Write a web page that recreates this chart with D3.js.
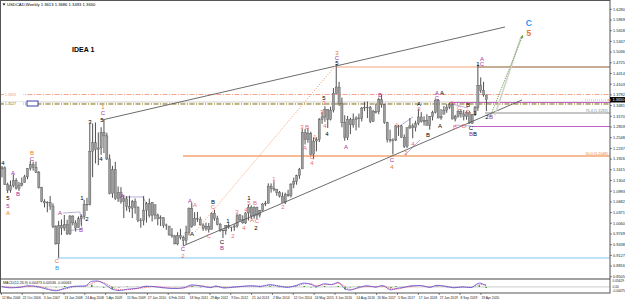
<!DOCTYPE html>
<html><head><meta charset="utf-8">
<script src="https://cdn.jsdelivr.net/npm/d3@7"></script>
<style>body{margin:0;background:#fff}svg{display:block;font-family:"Liberation Sans",Arial,sans-serif}</style>
</head><body><svg id="c" width="625" height="301"></svg>
<script>
// ---------- DATA ----------
const firstMonth = [2006, 3]; // March 2006, monthly bars
const high = [
1.1725,1.1715,1.1240,1.1300,1.1480,1.1370,1.1260,1.1390,1.1470,1.1660,
1.1880,1.1850,1.1850,1.1580,1.1120,1.0760,1.0700,1.0850,1.0640,1.0000,1.0130,1.0170,
1.0300,1.0160,1.0300,1.0290,1.0150,1.0260,1.0320,1.0740,1.0800,1.2950,1.2960,1.2990,
1.2700,1.2850,1.3060,1.2690,1.2060,1.1730,1.1850,1.1130,1.1110,1.0890,1.0850,1.0860,
1.0740,1.0780,1.0550,1.0210,1.0850,1.0680,1.0780,1.0680,1.0600,1.0340,1.0290,1.0230,
1.0050,0.9980,0.9920,0.9720,0.9800,0.9900,0.9700,0.9990,1.0520,1.0660,1.0380,1.0390,
1.0250,1.0060,1.0080,1.0070,1.0380,1.0450,1.0280,1.0070,0.9880,1.0010,1.0060,0.9960,
1.0030,1.0320,1.0330,1.0290,1.0380,1.0610,1.0580,1.0550,1.0540,1.0440,1.0650,1.0710,
1.1220,1.1220,1.1280,1.1060,1.1000,1.0960,1.0950,1.1030,1.1220,1.1390,1.1470,1.1670,
1.2800,1.2800,1.2830,1.2720,1.2560,1.2560,1.3120,1.3300,1.3460,1.3370,1.3450,1.3990,
1.4690,1.4170,1.3710,1.3200,1.3180,1.3130,1.3250,1.3170,1.3250,1.3440,1.3590,1.3600,
1.3470,1.3360,1.3540,1.3710,1.3790,1.3540,1.3010,1.2780,1.2530,1.2920,1.2920,1.2920,
1.2640,1.2840,1.3120,1.2960,1.3040,1.3390,1.3290,1.3170,1.3230,1.3170,1.3330,1.3660,
1.3670,1.3380,1.3470,1.3520,1.3570,1.3560,1.3210,1.3350,1.3380,1.3350,1.3330,1.3320,
1.3230,1.3470,1.4670,1.4300,1.4170,1.3800];
const low = [
1.1390,1.1180,1.0940,1.0950,1.1100,1.1040,1.1000,1.1130,1.1240,1.1340,
1.1590,1.1590,1.1520,1.1070,1.0670,1.0520,1.0380,1.0450,0.9920,0.9440,0.9060,0.9720,
0.9840,0.9720,0.9720,1.0000,0.9820,0.9930,0.9990,1.0170,1.0420,1.0580,1.1400,1.1800,
1.1750,1.2050,1.2100,1.1900,1.0900,1.0800,1.0740,1.0680,1.0630,1.0210,1.0420,1.0380,
1.0210,1.0340,1.0090,0.9930,1.0000,1.0080,1.0230,1.0110,1.0170,1.0000,0.9980,0.9930,
0.9870,0.9700,0.9640,0.9450,0.9420,0.9590,0.9410,0.9450,0.9710,0.9930,1.0000,1.0100,
0.9990,0.9840,0.9840,0.9790,0.9880,1.0130,1.0000,0.9810,0.9630,0.9730,0.9900,0.9820,
0.9840,0.9930,1.0110,1.0050,1.0040,1.0140,1.0180,1.0190,1.0180,1.0230,1.0410,1.0560,
1.0630,1.0950,1.0990,1.0860,1.0810,1.0670,1.0620,1.0830,1.0810,1.1080,1.1180,1.1350,
1.1640,1.2350,1.2400,1.2040,1.1920,1.2150,1.2420,1.2950,1.3010,1.2830,1.3050,1.3280,
1.3820,1.3470,1.2850,1.2460,1.2480,1.2650,1.2840,1.2760,1.2840,1.3020,1.3320,1.3120,
1.2970,1.3000,1.3250,1.3230,1.3420,1.2950,1.2410,1.2410,1.2060,1.2450,1.2600,1.2540,
1.2250,1.2250,1.2800,1.2530,1.2730,1.2910,1.2990,1.2900,1.2900,1.2780,1.3050,1.3250,
1.3110,1.3070,1.3230,1.3270,1.3380,1.3080,1.3020,1.3130,1.3130,1.3050,1.3070,1.2960,
1.2950,1.3180,1.3330,1.3850,1.3740,1.3320];
const close = [
1.1670,1.1190,1.1020,1.1150,1.1300,1.1070,1.1170,1.1220,1.1410,1.1650,
1.1770,1.1690,1.1540,1.1100,1.0700,1.0650,1.0670,1.0560,0.9960,0.9460,1.0000,0.9920,
1.0020,0.9750,1.0270,1.0070,0.9920,1.0190,1.0250,1.0610,1.0600,1.2150,1.2400,1.2200,
1.2250,1.2700,1.2600,1.1930,1.0920,1.1620,1.0780,1.0950,1.0700,1.0770,1.0550,1.0500,
1.0690,1.0530,1.0150,1.0140,1.0440,1.0630,1.0280,1.0670,1.0300,1.0190,1.0220,0.9990,
1.0010,0.9720,0.9690,0.9460,0.9700,0.9650,0.9550,0.9800,1.0480,0.9960,1.0200,1.0180,
1.0010,0.9900,0.9970,0.9880,1.0350,1.0200,1.0030,0.9860,0.9840,0.9990,0.9940,0.9950,
0.9980,1.0300,1.0160,1.0070,1.0360,1.0530,1.0270,1.0530,1.0300,1.0430,1.0620,1.0640,
1.1140,1.1070,1.1050,1.0960,1.0850,1.0670,1.0900,1.0860,1.1200,1.1270,1.1440,1.1620,
1.2700,1.2500,1.2660,1.2070,1.2450,1.2490,1.3080,1.3150,1.3370,1.3080,1.3350,1.3840,
1.4020,1.3530,1.2990,1.2550,1.3080,1.2920,1.3070,1.3120,1.3110,1.3410,1.3430,1.3430,
1.3020,1.3300,1.3300,1.3650,1.3510,1.2980,1.2490,1.2480,1.2480,1.2890,1.2890,1.2560,
1.2300,1.2840,1.2890,1.2840,1.2960,1.3150,1.3010,1.3050,1.2910,1.3160,1.3280,1.3640,
1.3120,1.3160,1.3350,1.3430,1.3510,1.3090,1.3170,1.3310,1.3240,1.3160,1.3290,1.2970,
1.3230,1.3420,1.4070,1.3920,1.3790,1.3650];
const firstOpen = 1.1640;

const priceTicks = [1.6280,1.5969,1.5658,1.5347,1.5036,1.4725,1.4414,1.4103,1.3792,1.3481,1.3170,1.2859,
  1.2548,1.2237,1.1926,1.1615,1.1304,1.0993,1.0682,1.0371,1.0060,0.9749,0.9438,0.9127,0.8816,0.8505];
const dateTicks = ["12 Mar 2006","22 Oct 2006","3 Jun 2007","13 Jan 2008","24 Aug 2008","5 Apr 2009",
  "15 Nov 2009","27 Jun 2010","6 Feb 2011","18 Sep 2011","29 Apr 2012","9 Dec 2012","21 Jul 2013",
  "2 Mar 2014","12 Oct 2014","24 May 2015","3 Jan 2016","14 Aug 2016","26 Mar 2017","5 Nov 2017",
  "17 Jun 2018","27 Jan 2019","8 Sep 2019","19 Apr 2020"];

const macdYears = [2006.2,2006.45,2006.7,2007.0,2007.25,2007.5,2007.8,2008.05,2008.35,2008.65,2008.85,2009.0,
 2009.2,2009.45,2009.65,2009.9,2010.2,2010.45,2010.7,2010.95,2011.3,2011.55,2011.8,2012.05,2012.35,2012.5,
 2012.75,2013.0,2013.3,2013.55,2013.8,2014.1,2014.35,2014.6,2014.85,2015.1,2015.3,2015.45,2015.7,2015.9,
 2016.1,2016.3,2016.45,2016.7,2016.95,2017.2,2017.4,2017.65,2017.8,2018.0,2018.25,2018.5,2018.8,2019.0,
 2019.3,2019.5,2019.75,2020.0,2020.25,2020.45];
const macdValues = [0.003,-0.008,-0.004,0.010,0.002,-0.018,-0.034,-0.012,0.006,0.008,0.050,0.052,
 0.030,-0.020,-0.032,-0.020,-0.012,0.006,0.002,-0.008,-0.014,-0.008,0.018,0.008,-0.006,0.008,
 -0.010,-0.002,0.006,0.010,0.004,0.020,0.006,-0.004,0.012,0.034,0.022,0.004,0.028,0.020,
 0.040,-0.018,-0.028,-0.004,0.010,-0.002,0.012,-0.026,-0.014,-0.006,0.010,0.012,-0.004,0.014,
 0.002,-0.008,0.000,-0.006,0.034,0.010];
const signalValues = [0.004,-0.004,-0.005,0.006,0.006,-0.012,-0.028,-0.020,0.002,0.006,0.030,0.050,
 0.038,0.000,-0.026,-0.024,-0.014,-0.002,0.004,-0.004,-0.012,-0.010,0.010,0.012,-0.002,0.002,
 -0.004,-0.004,0.004,0.008,0.006,0.014,0.010,0.000,0.008,0.026,0.028,0.010,0.020,0.022,
 0.032,0.004,-0.022,-0.010,0.006,0.002,0.008,-0.016,-0.020,-0.008,0.004,0.012,0.000,0.010,
 0.006,-0.004,-0.002,-0.004,0.020,0.020];

// wave labels: [decimal year, price, text, colour key]
const waveLabels = [
 [2006.238,1.1812,"4","k"],[2006.532,1.1521,"A","p"],[2006.679,1.0911,"B","p"],
 [2006.385,1.0794,"5","k"],[2006.385,1.0562,"5","p"],[2006.385,1.0359,"A","o"],
 [2007.091,1.2103,"B","o"],[2007.091,1.1928,"C","p"],[2007.827,0.8963,"C","o"],[2007.827,0.8760,"B","b"],
 [2007.915,1.0359,"A","p"],[2008.533,0.9864,"B","p"],[2008.709,1.0184,"2","k"],[2008.562,1.0794,"1","k"],
 [2008.798,1.3004,"3","k"],[2009.180,1.3440,"1","o"],[2009.180,1.3265,"C","p"],[2009.151,1.3062,"5","k"],
 [2009.121,1.1928,"4","k"],[2009.739,1.0853,"A","p"],
 [2011.533,0.9312,"C","p"],[2011.533,0.9108,"2","o"],[2011.739,1.0707,"A","p"],[2011.886,1.0591,"A","s"],
 [2011.798,0.9748,"A","k"],[2012.416,1.0678,"B","k"],[2012.416,1.0533,"C","s"],[2012.298,0.9690,"C","s"],
 [2012.681,0.9515,"C","k"],[2012.681,0.9341,"B","p"],[2012.857,1.0126,"1","k"],[2013.004,0.9690,"2","s"],
 [2013.122,1.0388,"3","s"],[2013.387,1.0446,"4","s"],[2013.475,1.0794,"1","k"],[2013.475,1.0649,"5","s"],
 [2013.651,1.0649,"B","s"],[2013.328,0.9922,"4","s"],[2013.563,1.0155,"A","s"],[2013.710,1.0126,"C","s"],
 [2013.681,0.9922,"2","k"],[2014.210,1.1347,"1","s"],[2014.475,1.0533,"2","s"],
 [2015.034,1.2858,"3","s"],[2015.181,1.2858,"B","s"],[2015.122,1.2248,"A","s"],[2015.327,1.1986,"C","s"],
 [2015.327,1.1812,"4","s"],[2015.416,1.2568,"1","s"],[2015.622,1.3294,"3","s"],[2015.681,1.3701,"5","k"],
 [2015.681,1.3556,"3","s"],[2015.710,1.2887,"4","s"],[2015.769,1.2655,"4","k"],
 [2016.063,1.5009,"3","o"],[2016.063,1.4864,"C","p"],[2016.063,1.4719,"5","k"],[2016.328,1.2277,"A","p"],
 [2017.328,1.3789,"B","p"],[2017.681,1.1899,"C","p"],[2017.681,1.1696,"4","o"],
 [2017.828,1.2917,"1","s"],[2018.093,1.2103,"2","s"],[2018.299,1.2364,"4","s"],[2018.475,1.3382,"3","s"],
 [2018.475,1.3527,"A","k"],[2018.740,1.2626,"B","k"],[2019.005,1.3847,"A","p"],[2019.152,1.3847,"A","k"],
 [2019.005,1.3701,"C","p"],[2019.093,1.2887,"A","k"],[2019.446,1.3556,"A","s"],[2019.652,1.3411,"C","s"],
 [2019.916,1.3498,"B","k"],[2019.916,1.3294,"E","s"],[2019.534,1.2858,"B","s"],[2019.799,1.2887,"D","s"],
 [2020.005,1.2829,"C","k"],[2020.005,1.2655,"B","p"],[2020.122,1.2655,"B","k"],[2020.122,1.3265,"1","k"],
 [2020.329,1.4835,"A","p"],[2020.211,1.4690,"1","k"],[2020.329,1.4690,"C","p"],
 [2020.476,1.3149,"2","k"],[2020.593,1.3149,"B","p"]];
const targetLabels = [[2021.710,1.5870,"C","b"],[2021.710,1.5590,"5","o"]];

// trend lines: [from [year,price], to [year,price], kind]
const trendLines = [
 [[2009.151,1.3062],[2021.005,1.5765],"trend"],
 [[2011.533,0.9399],[2021.505,1.3643],"trend"],
 [[2011.886,0.9806],[2016.034,1.4661],"fibo"],
 [[2020.711,1.3207],[2021.476,1.5474],"shadow"],
 [[2020.564,1.3149],[2021.534,1.5533],"arrow"]];
const channelLines = [
 [[2008.003,1.0359],[2008.503,1.0388],[2008.562,0.9893],[2008.092,0.9835]],
 [[2009.827,1.0824],[2010.357,1.0824],[2010.474,1.0591]],
 [[2017.828,1.2829],[2018.299,1.3149]],
 [[2018.063,1.2044],[2018.505,1.2481]],
 [[2019.446,1.3527],[2019.916,1.3411]],
 [[2019.534,1.2916],[2020.005,1.2887]]];
// horizontal levels: [price, start year (null = left edge), end year (null = right edge), kind, text]
const levels = [
 [1.3803,null,null,"salmonDash","1.3803"],
 [1.3585,null,null,"grey",""],
 [1.3527,null,null,"oliveDash","1.3527"],
 [1.2015,2011.533,null,"orange","50.0 (1.2048)"],
 [1.3265,2020.417,null,"greyLevel","76.4 (1.3283)"],
 [1.3571,2019.387,null,"orchid",""],
 [1.2873,2020.034,null,"orchid",""],
 [0.9050,2007.827,null,"blue",""],
 [1.4602,2016.063,2020.211,"lightOrange",""],
 [1.4602,2020.211,null,"brown",""]];

// ---------- DRAW ----------
const svg = d3.select("#c");
const PL = 0.5, PR = 610, PT = 0.5, PB = 279, MB = 293;
const x = d3.scaleLinear().domain([2006.194, 2020.300]).range([1.5, 481]);
const y = d3.scaleLinear().domain([0.844, 1.655]).range([PB, 0]);
const yM = d3.scaleLinear().domain([-0.04475, 0.05629]).range([MB - 1, PB + 1.5]);

const colors = {k:"#000000", p:"#9c2f9e", o:"#e8782e", s:"#ea6e6e", b:"#2f95f0"};
const styles = {
 trend:{c:"#5a5a5a",d:"",w:0.9}, fibo:{c:"#f3a070",d:"1.2,1.4",w:0.9},
 shadow:{c:"#d2d2d2",d:"",w:1.6}, arrow:{c:"#6f9f3f",d:"1.4,1",w:0.9},
 salmonDash:{c:"#f29a7e",d:"5,1.5,1,1.5",w:0.9}, grey:{c:"#c4c4c4",d:"",w:0.8},
 oliveDash:{c:"#7d6c00",d:"5,1.5,1,1.5",w:1}, orange:{c:"#ef7a2c",d:"",w:1.1},
 greyLevel:{c:"#8c8c8c",d:"",w:1}, orchid:{c:"#c45fc6",d:"",w:1.1}, blue:{c:"#80c4f4",d:"",w:1.2},
 lightOrange:{c:"#f2a57a",d:"",w:1}, brown:{c:"#8e5a30",d:"",w:1.2}};

svg.append("rect").attr("width",625).attr("height",301).attr("fill","#fff");
svg.append("defs").append("clipPath").attr("id","plot").append("rect")
  .attr("x",PL).attr("y",PT).attr("width",PR-PL).attr("height",PB-PT);
const g = svg.append("g").attr("clip-path","url(#plot)");

// horizontal levels
levels.forEach(([p,s,e,k,t])=>{
  const st = styles[k];
  const x1 = s==null?PL:x(s), x2 = e==null?PR:x(e);
  g.append("line").attr("x1",x1).attr("x2",x2).attr("y1",y(p)).attr("y2",y(p))
   .attr("stroke",st.c).attr("stroke-width",st.w).attr("stroke-dasharray",st.d);
  if(t){
    if(s==null){
      g.append("rect").attr("x",4).attr("y",y(p)-2).attr("width",19).attr("height",4).attr("fill","#fff");
      g.append("text").attr("x",5).attr("y",y(p)+1.3).attr("font-size",3.6).attr("fill",st.c).text(t);
    } else {
      g.append("text").attr("x",PR-2).attr("y",y(p)-1.2).attr("text-anchor","end")
       .attr("font-size",3.8).attr("fill",st.c).text(t);
    }
  }
});
// small blue box on the olive level
g.append("rect").attr("x",x(2006.944)).attr("y",y(1.3614)).attr("width",x(2007.268)-x(2006.944))
 .attr("height",y(1.3469)-y(1.3614)).attr("fill","#fff").attr("stroke","#2a2aa8").attr("stroke-width",0.9);

// channel lines
channelLines.forEach(pts=>{
  g.append("path").attr("d",d3.line().x(d=>x(d[0])).y(d=>y(d[1]))(pts))
   .attr("fill","none").attr("stroke","#a99ccc").attr("stroke-width",0.8);
});

// candles
const bars = high.map((h,i)=>{
  const m = firstMonth[1]-1+i;
  const yr = firstMonth[0] + (m+0.5)/12;
  return {yr, h, l:low[i], c:close[i], o: i===0?firstOpen:close[i-1]};
});
const bodyTop = d=>Math.max(Math.min(Math.max(d.o,d.c),d.h),d.l);
const bodyBot = d=>Math.max(d.l,Math.min(d.o,d.c));
const cg = g.append("g");
cg.selectAll("line.w").data(bars).join("line").attr("class","w")
  .attr("x1",d=>x(d.yr)).attr("x2",d=>x(d.yr)).attr("y1",d=>y(d.h)).attr("y2",d=>y(d.l))
  .attr("stroke","#505050").attr("stroke-width",1);
cg.selectAll("rect").data(bars).join("rect")
  .attr("x",d=>x(d.yr)-1.1).attr("width",2.2)
  .attr("y",d=>y(bodyTop(d)))
  .attr("height",d=>Math.max(0.6, y(bodyBot(d)) - y(bodyTop(d))))
  .attr("fill","#9d9d9d").attr("stroke","#4a4a4a").attr("stroke-width",0.35);

// trend lines
trendLines.forEach(([a,b,k])=>{
  const st = styles[k];
  g.append("line").attr("x1",x(a[0])).attr("y1",y(a[1])).attr("x2",x(b[0])).attr("y2",y(b[1]))
   .attr("stroke",st.c).attr("stroke-width",st.w).attr("stroke-dasharray",st.d);
  if(k==="arrow"){
    const ang = Math.atan2(y(b[1])-y(a[1]), x(b[0])-x(a[0]));
    const tx=x(b[0]), ty=y(b[1]), L=3.2, W=1.6;
    const p1=[tx-L*Math.cos(ang)+W*Math.sin(ang), ty-L*Math.sin(ang)-W*Math.cos(ang)];
    const p2=[tx-L*Math.cos(ang)-W*Math.sin(ang), ty-L*Math.sin(ang)+W*Math.cos(ang)];
    g.append("path").attr("d",`M${tx},${ty}L${p1}L${p2}Z`).attr("fill",st.c);
  }
});

// short dotted marker line near current price
g.append("line").attr("x1",585).attr("x2",PR).attr("y1",y(1.3643)).attr("y2",y(1.3643))
 .attr("stroke","#f0a080").attr("stroke-width",0.8).attr("stroke-dasharray","1,1");

// wave labels
g.selectAll("text.w").data(waveLabels).join("text").attr("class","w")
 .attr("x",d=>x(d[0])).attr("y",d=>y(d[1])).attr("dy","0.35em").attr("text-anchor","middle")
 .attr("font-size",6).attr("fill",d=>colors[d[3]]).text(d=>d[2]);
g.selectAll("text.t").data(targetLabels).join("text").attr("class","t")
 .attr("x",d=>x(d[0])).attr("y",d=>y(d[1])).attr("dy","0.35em").attr("text-anchor","middle")
 .attr("font-size",8.5).attr("font-weight","bold").attr("fill",d=>colors[d[3]]).text(d=>d[2]);

// IDEA 1
svg.append("text").attr("x",72).attr("y",52.3).attr("font-size",7).attr("font-weight","bold").text("IDEA 1");
// title
svg.append("path").attr("d","M2.5,3.5h3l-1.5,2z").attr("fill","#000");
svg.append("text").attr("x",7).attr("y",5.8).attr("font-size",4.2).attr("fill","#000")
 .text("USDCAD,Weekly  1.3613 1.3686 1.3493 1.3650");

// frames
svg.append("rect").attr("x",PL).attr("y",PT).attr("width",PR-PL).attr("height",MB-PT)
 .attr("fill","none").attr("stroke","#555").attr("stroke-width",1);
svg.append("line").attr("x1",PL).attr("x2",PR).attr("y1",PB).attr("y2",PB).attr("stroke","#444").attr("stroke-width",1);

// price axis
priceTicks.forEach(t=>{
  svg.append("line").attr("x1",PR).attr("x2",PR+2).attr("y1",y(t)).attr("y2",y(t)).attr("stroke","#333").attr("stroke-width",0.6);
  svg.append("text").attr("x",PR+3).attr("y",y(t)+1.4).attr("font-size",3.9).attr("fill","#222").text(t.toFixed(4));
});
// current price box
const last = close[close.length-1];
svg.append("rect").attr("x",PR).attr("y",y(last)-2.7).attr("width",15).attr("height",5.4).attr("fill","#000");
svg.append("text").attr("x",PR+2.5).attr("y",y(last)+1.5).attr("font-size",3.9).attr("fill","#fff").text(last.toFixed(4));
svg.append("rect").attr("x",PR-1.5).attr("y",y(1.3643)-1).attr("width",2).attr("height",2).attr("fill","#f08040");

// date axis
const parse = d3.timeParse("%e %b %Y");
const dec = d=>{const y0=new Date(d.getFullYear(),0,1), y1=new Date(d.getFullYear()+1,0,1);return d.getFullYear()+(d-y0)/(y1-y0);};
dateTicks.forEach(s=>{
  const xx = x(dec(parse(s)));
  svg.append("line").attr("x1",xx).attr("x2",xx).attr("y1",MB).attr("y2",MB+2).attr("stroke","#333").attr("stroke-width",0.6);
  svg.append("text").attr("x",xx+0.5).attr("y",MB+5.8).attr("font-size",3.3).attr("fill","#222").text(s);
});

// MACD panel
const mg = svg.append("g");
mg.append("line").attr("x1",PL).attr("x2",PR).attr("y1",yM(0)).attr("y2",yM(0))
  .attr("stroke","#555").attr("stroke-width",0.6).attr("stroke-dasharray","1,1");
mg.selectAll("line.h").data(macdYears).join("line").attr("class","h")
  .attr("x1",d=>x(d)).attr("x2",d=>x(d)).attr("y1",yM(0)).attr("y2",(d,i)=>yM(macdValues[i]-signalValues[i]))
  .attr("stroke","#1a9a1a").attr("stroke-width",1.4);
const ml = d3.line().curve(d3.curveMonotoneX);
mg.append("path").attr("d",ml(macdYears.map((d,i)=>[x(d),yM(signalValues[i])])))
  .attr("fill","none").attr("stroke","#f25050").attr("stroke-width",0.8).attr("stroke-dasharray","1.2,0.8");
mg.append("path").attr("d",ml(macdYears.map((d,i)=>[x(d),yM(macdValues[i])])))
  .attr("fill","none").attr("stroke","#5a4ee0").attr("stroke-width",0.8);
mg.append("text").attr("x",3).attr("y",PB+5).attr("font-size",3.6).attr("fill","#222")
  .text("MACD(12,26,9) 0.00473 0.00536 -0.00063");
[["0.05629",PB+3.4],["0.00",yM(0)+1.3],["-0.04475",MB-0.6]].forEach(([t,yy])=>{
  svg.append("text").attr("x",PR+2.5).attr("y",yy).attr("font-size",3.2).attr("fill","#222").text(t);
});
</script></body></html>
